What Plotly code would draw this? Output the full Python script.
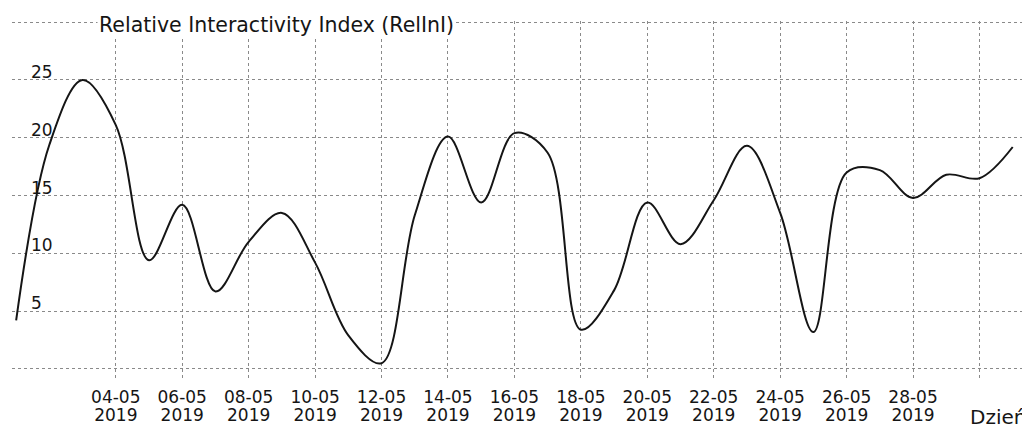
import plotly.graph_objects as go

dates = [f"2019-05-{d:02d}" for d in range(1, 32)]
relini = [4.2, 19.4, 25.0, 21.1, 9.4, 14.2, 6.7, 11.0, 13.5, 9.2,
          2.9, 0.5, 13.3, 20.1, 14.4, 20.4, 18.7, 3.4, 6.8, 14.4,
          10.8, 14.6, 19.3, 13.5, 3.2, 17.0, 17.2, 14.8, 16.8, 16.5, 19.2]

grid_dates = [f"2019-05-{d:02d}" for d in range(2, 31, 2)]
day_labels = [""] + [f"{d:02d}-05" for d in range(4, 29, 2)] + [""]
year_labels = [""] + ["2019" for d in range(4, 29, 2)] + [""]
y_ticks = [0, 5, 10, 15, 20, 25, 30]
y_labels = ["", "5", "10", "15", "20", "25", ""]

FONT = "DejaVu Sans, Verdana, sans-serif"
INK = "#151515"
GRID = "#8a8a8a"
X_RANGE = ["2019-04-30 21:00", "2019-05-31 08:53"]

fig = go.Figure()
fig.add_trace(go.Scatter(
    x=dates, y=relini, mode="lines",
    line=dict(color=INK, width=2, shape="spline", smoothing=1.0),
    showlegend=False, hoverinfo="skip"))
# invisible copy so the second (year) x axis is drawn
fig.add_trace(go.Scatter(
    x=dates, y=relini, mode="lines", xaxis="x2", opacity=0,
    line=dict(width=0), showlegend=False, hoverinfo="skip"))

common_x = dict(
    type="date", range=X_RANGE, tickvals=grid_dates, tickangle=0,
    zeroline=False, showline=False, ticks="", automargin=False,
    tickfont=dict(size=17, family=FONT, color=INK),
)

# page body has an 8px margin, so the figure is 8px smaller and offset
fig.update_layout(
    width=1022, height=420,
    margin=dict(l=4, r=5, t=13, b=50),
    paper_bgcolor="white", plot_bgcolor="white",
    font=dict(family=FONT, size=17, color=INK),
    xaxis=dict(**common_x, ticktext=day_labels, ticklabelstandoff=7,
               showgrid=True, gridcolor=GRID, griddash="dot", gridwidth=1),
    xaxis2=dict(**common_x, ticktext=year_labels, overlaying="x",
                side="bottom", anchor="y", showgrid=False,
                ticklabelstandoff=25),
    yaxis=dict(
        range=[-0.78, 30.1],
        tickvals=y_ticks, ticktext=y_labels,
        ticklabelposition="inside top",
        ticklabelstandoff=16, ticklabelshift=4,
        showgrid=True, gridcolor=GRID, griddash="dot", gridwidth=1,
        zeroline=False, showline=False, ticks="", automargin=False,
        tickfont=dict(size=17, family=FONT, color=INK),
    ),
    annotations=[
        dict(text="Relative Interactivity Index (RelInI)",
             xref="paper", yref="paper", x=0.0837, y=1.0,
             xanchor="left", yanchor="middle", yshift=-4,
             showarrow=False, bgcolor="white", borderpad=1,
             font=dict(size=20.5, family=FONT, color=INK)),
        dict(text="Dzień",
             xref="paper", yref="paper", x=1.0, y=0,
             xanchor="right", yanchor="middle", xshift=3, yshift=-39,
             showarrow=False,
             font=dict(size=20, family=FONT, color=INK)),
    ],
)

fig.write_html("out.html")
